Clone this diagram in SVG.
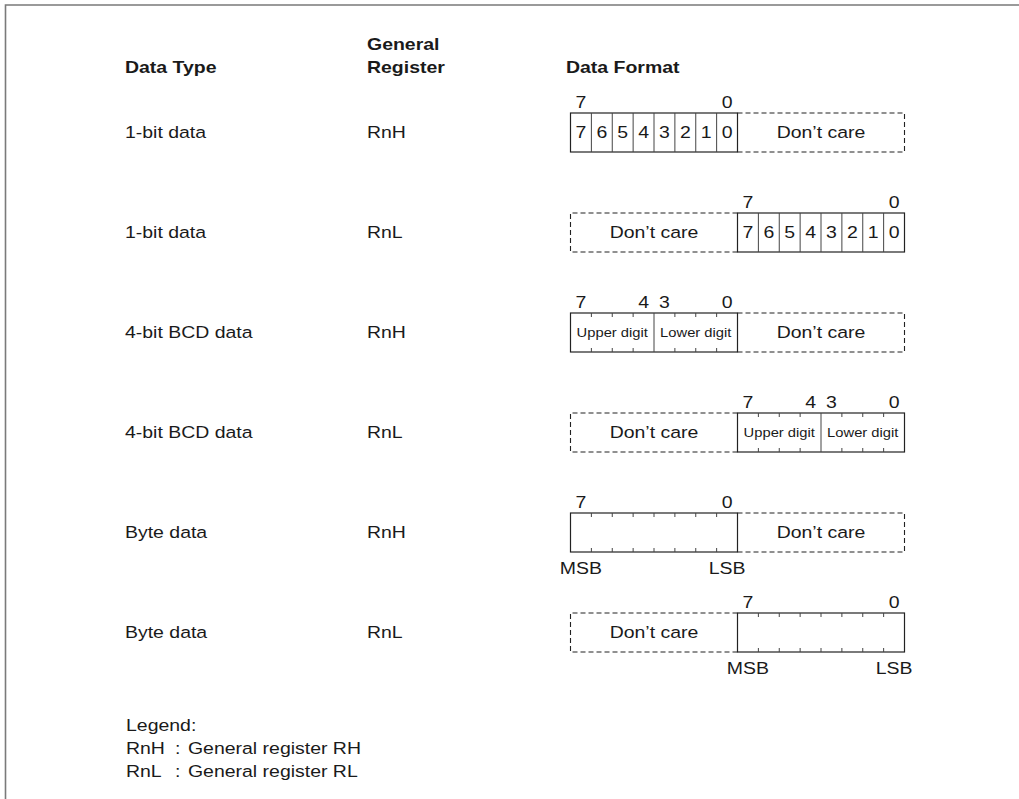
<svg xmlns="http://www.w3.org/2000/svg" width="1019" height="799" viewBox="0 0 1019 799">
<style>
text{font-family:"Liberation Sans",Arial,sans-serif;font-size:16.5px;fill:#1a1a1a}
.b{font-weight:bold}
.m{text-anchor:middle}
.s{font-size:12.5px}
.o{fill:none;stroke:#222;stroke-width:1.2}
.d{fill:none;stroke:#222;stroke-width:1.1;stroke-dasharray:5 3}
.v{fill:none;stroke:#444;stroke-width:1}
.f{fill:none;stroke:#7a7a7a;stroke-width:1.6}
</style>
<rect width="1019" height="799" fill="#fff"/>
<path class="f" d="M5.5,799 V5 H1019"/>

<g id="headers" transform="scale(1.18 1)">
<text class="b" x="105.93" y="73">Data Type</text>
<text class="b" x="311.02" y="50">General</text>
<text class="b" x="311.02" y="73">Register</text>
<text class="b" x="479.66" y="73">Data Format</text>
</g>

<g id="row1">
<rect class="o" x="570.5" y="113" width="167" height="39"/>
<path class="v" d="M591.375,113V152M612.25,113V152M633.125,113V152M654,113V152M674.875,113V152M695.75,113V152M716.625,113V152"/>
<path class="d" d="M737.5,113H904.5V152H737.5"/>
<g transform="scale(1.18 1)">
<text x="105.93" y="138.5">1-bit data</text>
<text x="311.02" y="138.5">RnH</text>
<text class="m" x="492.32" y="108">7</text>
<text class="m" x="616.15" y="108">0</text>
<text class="m" x="492.32" y="138.5">7</text>
<text class="m" x="510.01" y="138.5">6</text>
<text class="m" x="527.70" y="138.5">5</text>
<text class="m" x="545.39" y="138.5">4</text>
<text class="m" x="563.08" y="138.5">3</text>
<text class="m" x="580.77" y="138.5">2</text>
<text class="m" x="598.47" y="138.5">1</text>
<text class="m" x="616.15" y="138.5">0</text>
<text class="m" x="695.76" y="138.5">Don’t care</text>
</g>
</g>

<g id="row2">
<path class="d" d="M737.5,213H570.5V252H737.5"/>
<rect class="o" x="737.5" y="213" width="167" height="39"/>
<path class="v" d="M758.375,213V252M779.25,213V252M800.125,213V252M821,213V252M841.875,213V252M862.75,213V252M883.625,213V252"/>
<g transform="scale(1.18 1)">
<text x="105.93" y="238.5">1-bit data</text>
<text x="311.02" y="238.5">RnL</text>
<text class="m" x="633.85" y="208">7</text>
<text class="m" x="757.68" y="208">0</text>
<text class="m" x="554.24" y="238.5">Don’t care</text>
<text class="m" x="633.85" y="238.5">7</text>
<text class="m" x="651.53" y="238.5">6</text>
<text class="m" x="669.23" y="238.5">5</text>
<text class="m" x="686.92" y="238.5">4</text>
<text class="m" x="704.61" y="238.5">3</text>
<text class="m" x="722.30" y="238.5">2</text>
<text class="m" x="740.00" y="238.5">1</text>
<text class="m" x="757.68" y="238.5">0</text>
</g>
</g>

<g id="row3">
<rect class="o" x="570.5" y="313" width="167" height="39"/>
<path class="v" d="M654,313V352M591.375,313v4M612.25,313v4M633.125,313v4M674.875,313v4M695.75,313v4M716.625,313v4M591.375,352v-4M612.25,352v-4M633.125,352v-4M674.875,352v-4M695.75,352v-4M716.625,352v-4"/>
<path class="d" d="M737.5,313H904.5V352H737.5"/>
<g transform="scale(1.18 1)">
<text x="105.93" y="338.5">4-bit BCD data</text>
<text x="311.02" y="338.5">RnH</text>
<text class="m" x="492.32" y="308">7</text>
<text class="m" x="545.39" y="308">4</text>
<text class="m" x="563.08" y="308">3</text>
<text class="m" x="616.15" y="308">0</text>
<text class="m s" x="518.86" y="337">Upper digit</text>
<text class="m s" x="589.62" y="337">Lower digit</text>
<text class="m" x="695.76" y="338.5">Don’t care</text>
</g>
</g>

<g id="row4">
<path class="d" d="M737.5,413H570.5V452H737.5"/>
<rect class="o" x="737.5" y="413" width="167" height="39"/>
<path class="v" d="M821,413V452M758.375,413v4M779.25,413v4M800.125,413v4M841.875,413v4M862.75,413v4M883.625,413v4M758.375,452v-4M779.25,452v-4M800.125,452v-4M841.875,452v-4M862.75,452v-4M883.625,452v-4"/>
<g transform="scale(1.18 1)">
<text x="105.93" y="438.5">4-bit BCD data</text>
<text x="311.02" y="438.5">RnL</text>
<text class="m" x="633.85" y="408">7</text>
<text class="m" x="686.92" y="408">4</text>
<text class="m" x="704.61" y="408">3</text>
<text class="m" x="757.68" y="408">0</text>
<text class="m" x="554.24" y="438.5">Don’t care</text>
<text class="m s" x="660.38" y="437">Upper digit</text>
<text class="m s" x="731.14" y="437">Lower digit</text>
</g>
</g>

<g id="row5">
<rect class="o" x="570.5" y="513" width="167" height="39"/>
<path class="v" d="M591.375,513v4M612.25,513v4M633.125,513v4M654,513v4M674.875,513v4M695.75,513v4M716.625,513v4M591.375,552v-4M612.25,552v-4M633.125,552v-4M654,552v-4M674.875,552v-4M695.75,552v-4M716.625,552v-4"/>
<path class="d" d="M737.5,513H904.5V552H737.5"/>
<g transform="scale(1.18 1)">
<text x="105.93" y="538.5">Byte data</text>
<text x="311.02" y="538.5">RnH</text>
<text class="m" x="492.32" y="508">7</text>
<text class="m" x="616.15" y="508">0</text>
<text class="m" x="695.76" y="538.5">Don’t care</text>
<text class="m" x="492.32" y="574">MSB</text>
<text class="m" x="616.15" y="574">LSB</text>
</g>
</g>

<g id="row6">
<path class="d" d="M737.5,613H570.5V652H737.5"/>
<rect class="o" x="737.5" y="613" width="167" height="39"/>
<path class="v" d="M758.375,613v4M779.25,613v4M800.125,613v4M821,613v4M841.875,613v4M862.75,613v4M883.625,613v4M758.375,652v-4M779.25,652v-4M800.125,652v-4M821,652v-4M841.875,652v-4M862.75,652v-4M883.625,652v-4"/>
<g transform="scale(1.18 1)">
<text x="105.93" y="638.5">Byte data</text>
<text x="311.02" y="638.5">RnL</text>
<text class="m" x="633.85" y="608">7</text>
<text class="m" x="757.68" y="608">0</text>
<text class="m" x="554.24" y="638.5">Don’t care</text>
<text class="m" x="633.85" y="674">MSB</text>
<text class="m" x="757.68" y="674">LSB</text>
</g>
</g>

<g id="legend" transform="scale(1.18 1)">
<text x="106.78" y="731">Legend:</text>
<text x="106.78" y="754">RnH</text>
<text x="148.31" y="754">:</text>
<text x="159.32" y="754">General register RH</text>
<text x="106.78" y="777">RnL</text>
<text x="148.31" y="777">:</text>
<text x="159.32" y="777">General register RL</text>
</g>
</svg>
